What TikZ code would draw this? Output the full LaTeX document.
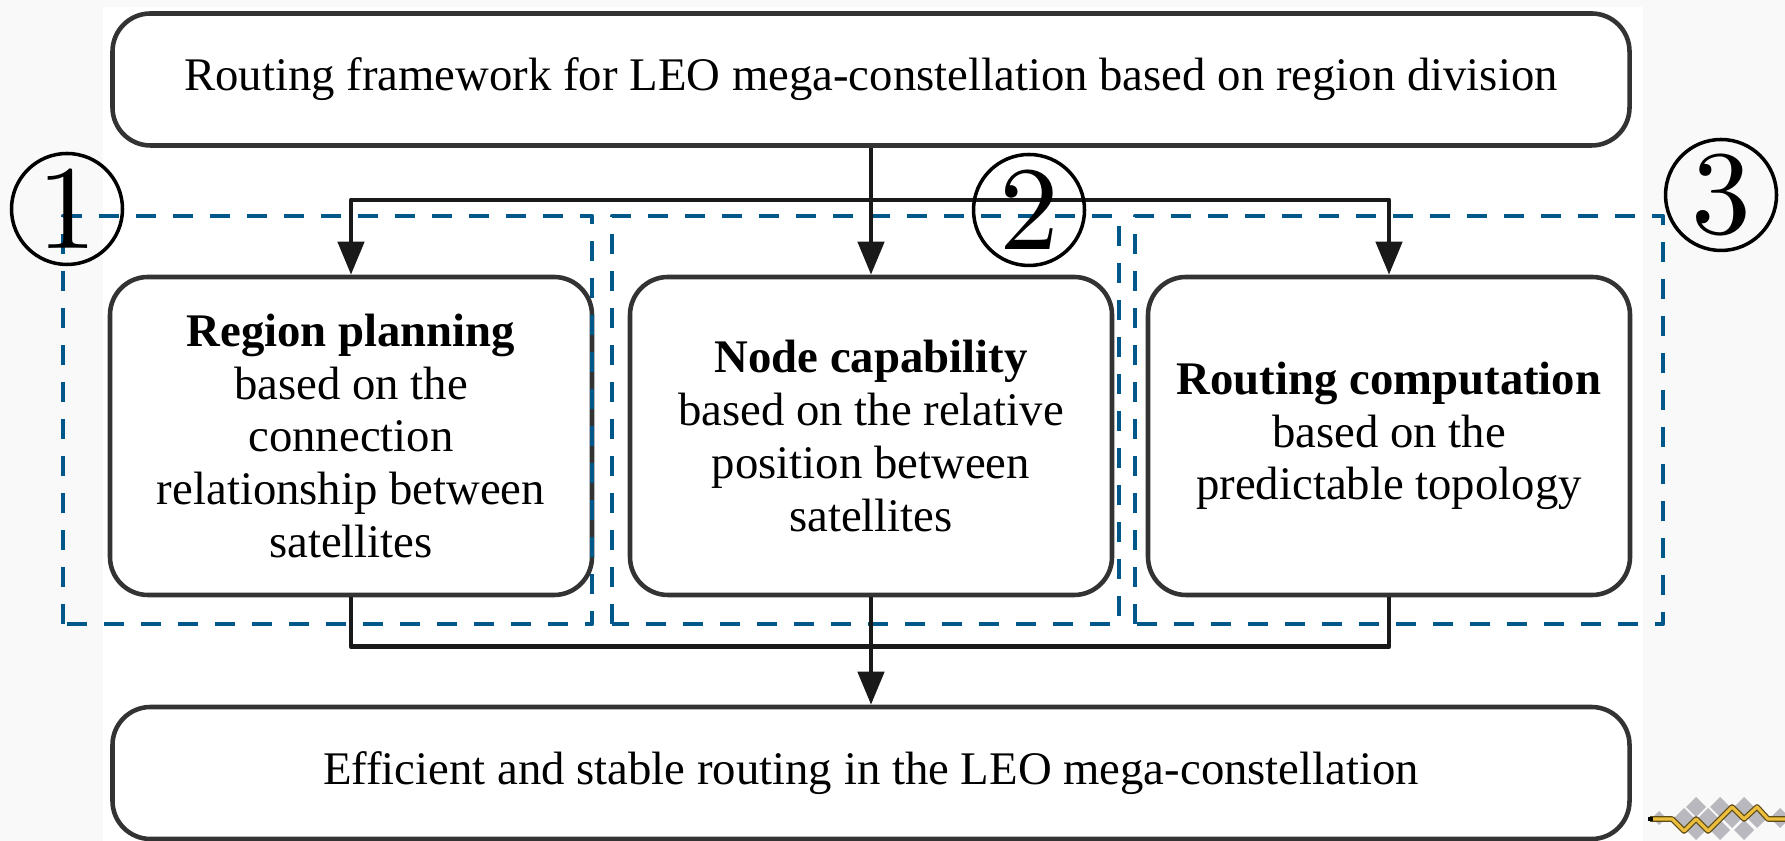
\documentclass[tikz,border=0pt]{standalone}
\usepackage{fontspec}
\setmainfont{Liberation Serif}
\newfontfamily\cmfont{lmroman10-regular.otf}
\usetikzlibrary{arrows.meta,positioning,calc}
\definecolor{regblue}{RGB}{0,87,138}
\definecolor{pagegray}{RGB}{249,249,249}
\definecolor{logogray}{RGB}{184,184,190}
\definecolor{logogold}{RGB}{236,190,60}

\begin{document}
\begin{tikzpicture}[line join=round,
  box/.style={draw=black!80,line width=1.3pt,rounded corners=0.38cm,align=center,inner sep=0pt,font=\fontsize{13.3}{15}\selectfont},
  wide/.style={box,minimum width=15.17cm,minimum height=1.32cm},
  part/.style={box,minimum width=4.82cm,minimum height=3.18cm},
  region/.style={draw=regblue,line width=1.3pt,dash pattern=on 0.2cm off 0.17cm},
  link/.style={draw=black!90,line width=1.3pt},
  arr/.style={link,-{Triangle[width=2.6mm,length=3.3mm]}},
  num/.style={draw,circle,line width=1pt,minimum size=1.11cm,inner sep=0pt,font=\cmfont\fontsize{34}{34}\selectfont}]
% page
\fill[pagegray] (0,0) rectangle (17.85,8.41);
\fill[white] (1.03,0) rectangle (16.43,8.34);
\useasboundingbox (0,0) rectangle (17.85,8.41);
% boxes
\node[wide] (top) at (8.71,7.615) {Routing framework for LEO mega-constellation based on region division};
\node[part] (left) at (3.51,4.05) {\textbf{Region planning}\\based on the\\connection\\relationship between\\satellites};
\node[part] (mid) at (8.71,4.05) {\textbf{Node capability}\\based on the relative\\position between\\satellites};
\node[part] (right) at (13.89,4.05) {\textbf{Routing computation}\\based on the\\predictable topology};
\node[wide] (bottom) at (8.71,0.68) {Efficient and stable routing in the LEO mega-constellation};
% regions
\draw[region] (0.63,2.17) rectangle (5.92,6.25);
\draw[region] (6.12,2.17) rectangle (11.19,6.25);
\draw[region] (11.35,2.17) rectangle (16.63,6.25);
% connectors
\coordinate (split) at ($(top.south)!0.41!(mid.north)$);
\coordinate (join) at ($(mid.south)!0.46!(bottom.north)$);
\draw[arr] (top.south) -- (mid.north);
\draw[arr] (split) -| (left.north);
\draw[arr] (split) -| (right.north);
\draw[link] (left.south) |- (join) -| (right.south);
\draw[arr] (mid.south) -- (bottom.north);
% numbers
\node[num] (n1) at (0.67,6.32) {1};
\node[num] (n2) at (10.29,6.31) {2};
\node[num] (n3) at (17.21,6.46) {3};
% logo
\foreach \x/\y/\s in {16.59/0.23/0.07,16.84/0.23/0.1,16.96/0.34/0.1,16.96/0.11/0.1,17.08/0.23/0.1,
  17.20/0.34/0.1,17.20/0.11/0.1,17.32/0.23/0.1,17.44/0.34/0.1,17.44/0.11/0.1,17.57/0.23/0.1,17.80/0.23/0.1}
\fill[logogray] (\x,\y) ++(-\s,0) -- ++(\s,\s) -- ++(\s,-\s) -- ++(-\s,-\s) -- cycle;
\draw[black!60!logogold,line width=1.6pt] (16.50,0.22) -- (16.72,0.22) -- (16.84,0.10) -- (16.96,0.22) -- (17.08,0.10) -- (17.32,0.34) -- (17.44,0.22) -- (17.57,0.34) -- (17.68,0.22) -- (17.85,0.22);
\draw[logogold,line width=0.9pt] (16.50,0.22) -- (16.72,0.22) -- (16.84,0.10) -- (16.96,0.22) -- (17.08,0.10) -- (17.32,0.34) -- (17.44,0.22) -- (17.57,0.34) -- (17.68,0.22) -- (17.85,0.22);
\fill[black] (16.48,0.20) rectangle (16.53,0.24);
\end{tikzpicture}
\end{document}
